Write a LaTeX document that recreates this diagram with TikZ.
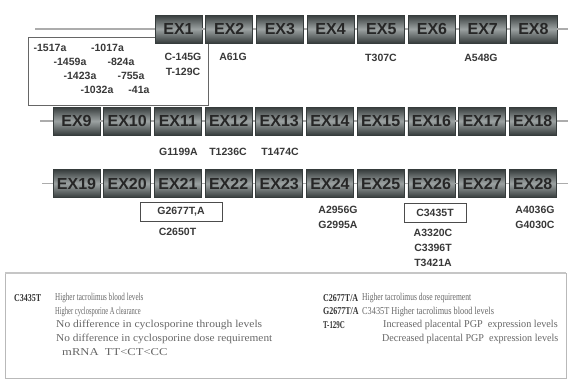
\documentclass[tikz,border=0pt]{standalone}
\usepackage{graphicx}
\usepackage{fontspec}
\setmainfont{Liberation Serif}
\setsansfont{Liberation Sans}
\usetikzlibrary{positioning}

\definecolor{exondark}{HTML}{363C3C}
\definecolor{exonlight}{HTML}{9CA2A2}
\definecolor{snptext}{HTML}{383838}
\definecolor{legtext}{HTML}{666666}
\definecolor{legkeytext}{HTML}{333333}

\tikzset{
  exon/.style={draw=exondark, line width=0.8pt, minimum width=47pt, minimum height=28pt,
    inner sep=0pt, top color=exondark, bottom color=exondark, middle color=exonlight,
    font=\sffamily\bfseries\fontsize{16}{16}\selectfont, text=black!85},
  gene/.style={draw=gray!65, line width=1.6pt},
  prombox/.style={draw=black!60, line width=0.8pt},
  snp/.style={font=\sffamily\bfseries\fontsize{10.5}{11}\selectfont, text=snptext, inner sep=1pt},
  snpbox/.style={snp, draw=black!70, line width=1pt, minimum height=19pt, inner xsep=4pt},
  legbox/.style={draw=gray!55, line width=0.8pt},
  legtxt/.style={font=\fontsize{10.5}{12}\selectfont, text=legtext, anchor=west, inner sep=0pt},
  legkey/.style={legtxt, font=\bfseries\fontsize{10.5}{12}\selectfont, text=legkeytext}
}

\begin{document}
\begin{tikzpicture}[x=1pt, y=-1pt]
\useasboundingbox (0,0) rectangle (569,381);
% Promoter region box (under EX1)
\draw[prombox] (155,37) -| (28,105) -| (208,43);
% Exons, three rows
\foreach \i in {1,...,8}
  \node[exon] (ex\i) at ({178.5+(\i-1)*50.7},29) {EX\i};
\foreach \i in {9,...,18}
  \node[exon] (ex\i) at ({76.5+(\i-9)*50.7},121) {EX\i};
\foreach \i in {19,...,28}
  \node[exon] (ex\i) at ({76.5+(\i-19)*50.7},183.5) {EX\i};
% Gene line ends
\coordinate (r1a) at (35,29);  \coordinate (r1b) at (568,29);
\coordinate (r2a) at (40,121); \coordinate (r2b) at (568,121);
\coordinate (r3a) at (42,183.5); \coordinate (r3b) at (568,183.5);
% Introns between exons
\draw[gene] (r1a) -- (ex1.west);
\draw[gene] (ex8.east) -- (r1b);
\draw[gene] (r2a) -- (ex9.west);
\draw[gene] (ex18.east) -- (r2b);
\draw[gene] (r3a) -- (ex19.west);
\draw[gene] (ex28.east) -- (r3b);
\foreach \i [evaluate=\i as \j using int(\i+1)] in {1,...,7,9,10,...,17,19,20,...,27}
  \draw[gene] (ex\i.east) -- (ex\j.west);
% Promoter SNPs
\node[snp] (p1517) at (50,48) {-1517a};
\node[snp] (p1017) at (107.5,48) {-1017a};
\node[snp] (p1459) at (70,62) {-1459a};
\node[snp] (p824) at (121,62) {-824a};
\node[snp] (p1423) at (80,76) {-1423a};
\node[snp] (p755) at (131,76) {-755a};
\node[snp] (p1032) at (97,90) {-1032a};
\node[snp] (p41) at (139,90) {-41a};
% Exon SNPs, row 1
\node[snp] (c145g) at (183,57) {C-145G};
\node[snp] (t129c) at (183,72) {T-129C};
\node[snp] (a61g) at (233,57) {A61G};
\node[snp] (t307c) at (381,58) {T307C};
\node[snp] (a548g) at (481,58) {A548G};
% Row 2
\node[snp] (g1199a) at (178.5,152) {G1199A};
\node[snp] (t1236c) at (228,152) {T1236C};
\node[snp] (t1474c) at (280,152) {T1474C};
% Row 3
\node[snpbox, minimum width=82pt] (g2677) at (181,211.5) {G2677T,A};
\node[snp] (c2650t) at (177.5,232) {C2650T};
\node[snp] (a2956g) at (338,210) {A2956G};
\node[snp] (g2995a) at (338,225) {G2995A};
\node[snpbox, minimum width=62pt] (c3435) at (435,213) {C3435T};
\node[snp] (a3320c) at (433,233) {A3320C};
\node[snp] (c3396t) at (433,248) {C3396T};
\node[snp] (t3421a) at (433,263) {T3421A};
\node[snp] (a4036g) at (535,210) {A4036G};
\node[snp] (g4030c) at (535,225) {G4030C};
% Legend
\draw[legbox] (5,273) rectangle (566,378);
\draw[gray!45, line width=1.6pt] (5,273) -- (566,273);
\node[legkey] (k1) at (14,298) {\scalebox{0.76}[1]{C3435T}};
\node[legtxt] (l1) at (55,298) {\scalebox{0.68}[1]{Higher tacrolimus blood levels}};
\node[legtxt] (l2) at (55,311.5) {\scalebox{0.62}[1]{Higher cyclosporine A clearance}};
\node[legtxt] (l3) at (56,325) {\scalebox{1.1}[1]{No difference in cyclosporine through levels}};
\node[legtxt] (l4) at (56,338.5) {\scalebox{1.08}[1]{No difference in cyclosporine dose requirement}};
\node[legtxt] (l5) at (62,352) {\scalebox{1.2}[1]{mRNA\ \ TT<CT<CC}};
\node[legkey] (k2) at (323,298) {\scalebox{0.76}[1]{C2677T/A}};
\node[legtxt] (r1) at (362,298) {\scalebox{0.72}[1]{Higher tacrolimus dose requirement}};
\node[legkey] (k3) at (323,311.5) {\scalebox{0.76}[1]{G2677T/A}};
\node[legtxt] (r2) at (362,311.5) {\scalebox{0.79}[1]{C3435T Higher tacrolimus blood levels}};
\node[legkey] (k4) at (323,325) {\scalebox{0.66}[1]{T-129C}};
\node[legtxt] (r3) at (383,325) {\scalebox{0.97}[1]{Increased placental PGP\ \ expression levels}};
\node[legtxt] (r4) at (382,338.5) {\scalebox{0.96}[1]{Decreased placental PGP\ \ expression levels}};
\end{tikzpicture}
\end{document}
